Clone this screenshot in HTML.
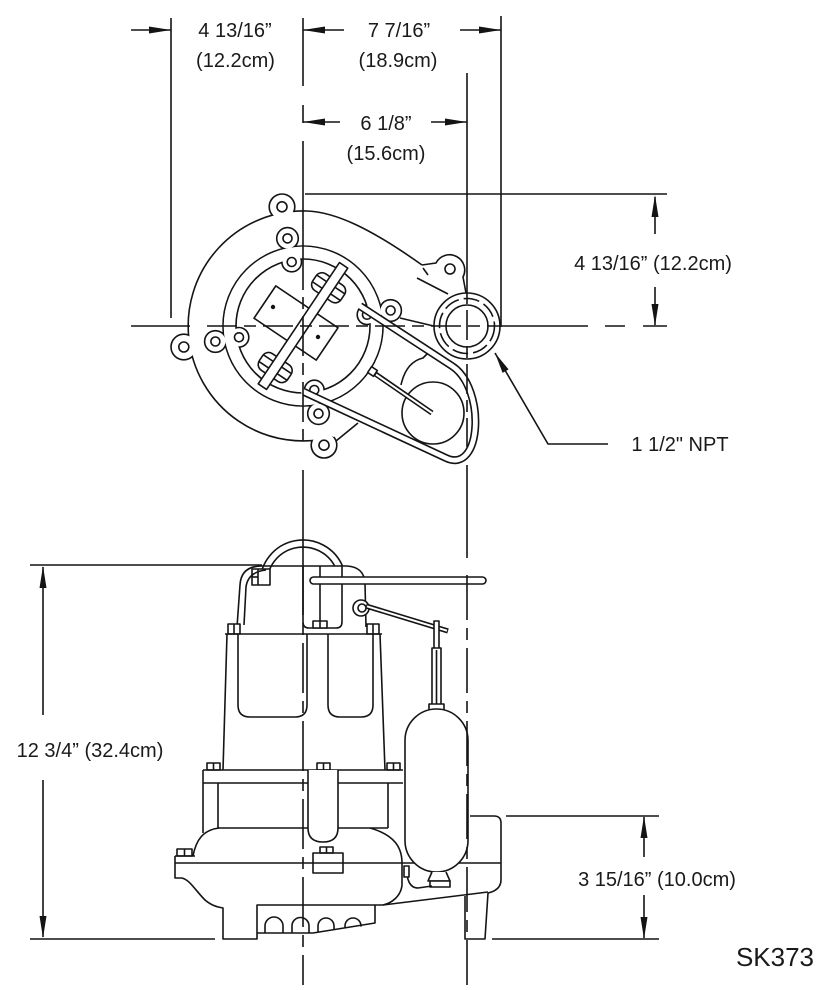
<!DOCTYPE html>
<html><head><meta charset="utf-8"><style>
html,body{margin:0;padding:0;background:#fff;}
svg{display:block;}
text{font-family:"Liberation Sans",Arial,sans-serif;fill:#1a1a1a;}
</style></head><body>
<svg width="827" height="990" viewBox="0 0 827 990" xmlns="http://www.w3.org/2000/svg">
<rect width="827" height="990" fill="#fff"/>
<g fill="none" stroke="#141414" stroke-width="1.6" stroke-linejoin="round">

<!-- ===== TOP VIEW ===== -->
<g stroke-width="3.2">
<circle cx="282" cy="206.8" r="12"/>
<circle cx="183.8" cy="347" r="12"/>
<circle cx="324" cy="445.2" r="12"/>
</g>
<circle cx="303" cy="326" r="115" fill="#fff" stroke="none"/>
<path d="M307,211 A115,115 0 1 0 333,437"/>
<g fill="#fff" stroke="none">
<circle cx="282" cy="206.8" r="12"/>
<circle cx="183.8" cy="347" r="12"/>
<circle cx="324" cy="445.2" r="12"/>
</g>
<circle cx="282" cy="206.8" r="5"/>
<circle cx="183.8" cy="347" r="5"/>
<circle cx="324" cy="445.2" r="5"/>

<!-- volute outline -->
<path d="M307,211 C335,212 370,228 422,265"/>
<path d="M422,265 L436,263 A14.5,14.5 0 1 1 463,277 L466,293"/>
<circle cx="450" cy="269" r="5"/>
<path d="M423,268 L428,275"/>
<path d="M417,278 L448,294"/>
<path d="M400,318 L442,328"/>
<path d="M430,351 L423,358 Q406,362 401,385"/>
<path d="M336,441 L358,423"/>

<!-- ring outer lugs -->
<g stroke-width="3.2">
<circle cx="287.5" cy="238.4" r="10"/>
<circle cx="215.4" cy="341.5" r="10"/>
<circle cx="318.5" cy="413.6" r="10"/>
<circle cx="390.6" cy="310.5" r="10"/>
</g>
<circle cx="303" cy="326" r="80" fill="#fff" stroke="none"/>
<circle cx="303" cy="326" r="80"/>
<g fill="#fff" stroke="none">
<circle cx="287.5" cy="238.4" r="10"/>
<circle cx="215.4" cy="341.5" r="10"/>
<circle cx="318.5" cy="413.6" r="10"/>
<circle cx="390.6" cy="310.5" r="10"/>
</g>
<circle cx="287.5" cy="238.4" r="4.5"/>
<circle cx="215.4" cy="341.5" r="4.5"/>
<circle cx="318.5" cy="413.6" r="4.5"/>
<circle cx="390.6" cy="310.5" r="4.5"/>

<!-- ring inner lugs -->
<g stroke-width="3.2">
<circle cx="291.7" cy="262" r="9"/>
<circle cx="239" cy="337.3" r="9"/>
<circle cx="314.3" cy="390" r="9"/>
<circle cx="367" cy="314.7" r="9"/>
</g>
<path fill="#fff" stroke="none" fill-rule="evenodd" d="M303,246.8 A79.2,79.2 0 1 0 303.01,246.8 Z M303,259 A67,67 0 1 1 302.99,259 Z"/>
<circle cx="303" cy="326" r="67"/>
<g fill="#fff" stroke="none">
<circle cx="291.7" cy="262" r="9"/>
<circle cx="239" cy="337.3" r="9"/>
<circle cx="314.3" cy="390" r="9"/>
<circle cx="367" cy="314.7" r="9"/>
</g>
<circle cx="291.7" cy="262" r="4.5"/>
<circle cx="239" cy="337.3" r="4.5"/>
<circle cx="314.3" cy="390" r="4.5"/>
<circle cx="367" cy="314.7" r="4.5"/>

<!-- interior rectangle -->
<g transform="translate(296,323) rotate(34)"><rect x="-37.5" y="-19.5" width="75" height="39" fill="#fff"/></g>
<circle cx="273" cy="307" r="1.4" fill="#141414"/>
<circle cx="318" cy="337" r="1.4" fill="#141414"/>

<!-- clamps + bar -->
<g transform="translate(303,326) rotate(-56.2)">
<rect x="36" y="-17" width="20" height="34" rx="7" fill="#fff"/>
<line x1="42" y1="-17" x2="42" y2="17"/>
<line x1="50" y1="-17" x2="50" y2="17"/>
<rect x="-60" y="-17" width="20" height="34" rx="7" fill="#fff"/>
<line x1="-54" y1="-17" x2="-54" y2="17"/>
<line x1="-46" y1="-17" x2="-46" y2="17"/>
<rect x="-73" y="-5" width="146" height="10" fill="#fff"/>
</g>

<!-- float circle and rod -->
<circle cx="433" cy="413" r="31" fill="#fff"/>
<path d="M374,373 L432,413" stroke-width="5.2"/>
<path d="M376,374.5 L432,413" stroke="#fff" stroke-width="2"/>
<rect x="369" y="368" width="7" height="7" fill="#fff" transform="rotate(34 372.5 371.5)"/>

<!-- loop -->
<path d="M360,306 L452,366 C486,388 482,475 446,458 L304,392" stroke-width="8"/>
<path d="M358,304.7 L452,366 C486,388 482,475 446,458 L302,391" stroke="#fff" stroke-width="4.8"/>

<!-- discharge flange -->
<circle cx="467" cy="326" r="33" fill="#fff"/>
<circle cx="467" cy="326" r="27.5" stroke-dasharray="16 5"/>
<circle cx="467" cy="326" r="21"/>

<!-- ===== SIDE VIEW ===== -->
<path d="M260,585 L260,583 A43,43 0 0 1 342.5,566"/>
<path d="M267,585 L267,583 A36,36 0 0 1 334.7,566"/>
<rect x="252" y="569" width="18" height="16" fill="#fff"/>
<line x1="258" y1="569" x2="258" y2="585"/>
<line x1="252" y1="577" x2="258" y2="577"/>

<path d="M237,627 L240,585 Q241,566 262,566 L347,566 Q364,567 365,583 L366,627"/>
<path d="M244,625 L246,587 Q248,572 266,570"/>
<path d="M303,566 L303,622 Q303,628 309,628 L336,628 Q342,628 342,622 L342,566"/>
<line x1="320" y1="566" x2="320" y2="628"/>
<rect x="313" y="621" width="14" height="7" fill="#fff"/>
<line x1="320" y1="621" x2="320" y2="628"/>
<rect x="228" y="624" width="12" height="10" fill="#fff"/>
<line x1="234" y1="624" x2="234" y2="634"/>
<rect x="367" y="624" width="12" height="10" fill="#fff"/>
<line x1="373" y1="624" x2="373" y2="634"/>

<line x1="225" y1="634" x2="382" y2="634"/>
<line x1="227" y1="634" x2="223" y2="770"/>
<line x1="380" y1="634" x2="385" y2="770"/>
<path d="M238,634 L238,705 Q238,717 250,717 L295,717 Q307,717 307,705 L307,634"/>
<path d="M328,634 L328,705 Q328,717 340,717 L361,717 Q373,717 373,705 L373,634"/>

<circle cx="361" cy="608" r="8" fill="#fff"/>
<circle cx="362" cy="608" r="4"/>
<path d="M366,606 L448,631" stroke-width="5.2"/>
<path d="M367,606.3 L447,630.7" stroke="#fff" stroke-width="2"/>

<rect x="434" y="621" width="5" height="28" fill="#fff"/>
<rect x="432" y="648" width="9" height="57" fill="#fff"/>
<line x1="436.5" y1="650" x2="436.5" y2="704"/>
<rect x="429" y="704" width="15" height="6" fill="#fff"/>

<rect x="310" y="577" width="176" height="7" rx="3.5" fill="#fff"/>

<rect x="207" y="763" width="13" height="7" fill="#fff"/><line x1="213.5" y1="763" x2="213.5" y2="770"/>
<rect x="317" y="763" width="13" height="7" fill="#fff"/><line x1="323.5" y1="763" x2="323.5" y2="770"/>
<rect x="387" y="763" width="13" height="7" fill="#fff"/><line x1="393.5" y1="763" x2="393.5" y2="770"/>
<line x1="203" y1="770" x2="403" y2="770"/>
<line x1="203" y1="783" x2="403" y2="783"/>
<line x1="203" y1="770" x2="203" y2="833"/>
<line x1="218" y1="783" x2="218" y2="828"/>
<line x1="388" y1="783" x2="388" y2="828"/>
<line x1="218" y1="828" x2="388" y2="828"/>
<path d="M308,770 L308,828 C308,838 314,842 323,842 C332,842 338,838 338,828 L338,770" fill="#fff"/>

<path d="M219,828 C203,830 196,840 193,856"/>
<path d="M370,828 C395,835 402,848 402,863 L402,885 C401,896 392,903 383,905"/>
<line x1="175" y1="863" x2="402" y2="863"/>
<rect x="177" y="849" width="15" height="7" fill="#fff"/><line x1="184.5" y1="849" x2="184.5" y2="856"/>
<path d="M175,856 L195,856"/>
<path d="M175,856 L175,878 L182,878 C190,880 195,890 205,900 C212,906 218,907 223,908 L223,939 L257,939 L257,905 L383,905"/>
<rect x="320" y="847" width="13" height="6" fill="#fff"/><line x1="326.5" y1="847" x2="326.5" y2="853"/>
<rect x="313" y="853" width="30" height="20" fill="none"/>

<path d="M257,933 L313,933 L375,923 L375,905"/>
<path d="M265,933 L265,926 A9,9 0 0 1 283,926 L283,933"/>
<path d="M292,933 L292,926 A8.5,8.5 0 0 1 309,926 L309,933"/>
<path d="M318,932 L318,926 A8,8 0 0 1 334,926 L334,929.6"/>
<path d="M345,927.8 L345,926 A8,8 0 0 1 361,926 L361,925.3"/>

<path d="M383,905 L488,892"/>
<path d="M470,816 L494,816 Q501,816 501,823 L501,880 Q501,890 488,893"/>
<line x1="402" y1="863" x2="501" y2="863"/>
<path d="M465,896 L465,939 L485,939 L488,893"/>

<rect x="405" y="709" width="63" height="163" rx="31.5" fill="#fff"/>
<path d="M432,872 L428,881 L450,881 L446,872" fill="#fff"/>
<rect x="430" y="881" width="20" height="6" fill="#fff"/>
<path d="M407,866 C406,880 410,888 418,888 L432,886"/>
<rect x="404" y="866" width="5" height="11" fill="#fff"/>

<!-- ===== DIMENSIONS ===== -->
<line x1="171" y1="18" x2="171" y2="318"/>
<line x1="501" y1="16" x2="501" y2="327"/>
<line x1="131" y1="30" x2="171" y2="30"/>
<line x1="303" y1="30" x2="344" y2="30"/>
<line x1="460" y1="30" x2="501" y2="30"/>
<line x1="303" y1="122" x2="340" y2="122"/>
<line x1="431" y1="122" x2="467" y2="122"/>
<line x1="305" y1="194" x2="667" y2="194"/>
<line x1="655" y1="197" x2="655" y2="234"/>
<line x1="655" y1="287" x2="655" y2="325"/>
<polyline points="495,353 548,444 608,444"/>
<line x1="30" y1="565" x2="262" y2="565"/>
<line x1="43" y1="567" x2="43" y2="715"/>
<line x1="43" y1="780" x2="43" y2="937"/>
<line x1="30" y1="939" x2="215" y2="939"/>
<line x1="492" y1="939" x2="659" y2="939"/>
<line x1="506" y1="816" x2="659" y2="816"/>
<line x1="644" y1="817" x2="644" y2="857"/>
<line x1="644" y1="895" x2="644" y2="938"/>

<!-- centerlines -->
<line x1="303" y1="18" x2="303" y2="86"/>
<line x1="303" y1="105" x2="303" y2="123"/>
<line x1="303" y1="141" x2="303" y2="250"/>
<line x1="303" y1="250" x2="303" y2="447" stroke-dasharray="40 7 12 7"/>
<line x1="303" y1="470" x2="303" y2="565"/>
<line x1="303" y1="565" x2="303" y2="985" stroke-dasharray="50 8 12 8"/>
<line x1="467" y1="73" x2="467" y2="292"/>
<line x1="467" y1="292" x2="467" y2="447" stroke-dasharray="12 6 30 6"/>
<line x1="467" y1="465" x2="467" y2="558"/>
<line x1="467" y1="575" x2="467" y2="985" stroke-dasharray="45 8 12 8"/>
<line x1="131" y1="326" x2="190" y2="326"/>
<line x1="207" y1="326" x2="501" y2="326" stroke-dasharray="30 7 12 7"/>
<line x1="501" y1="326" x2="588" y2="326"/>
<line x1="605" y1="326" x2="625" y2="326"/>
<line x1="643" y1="326" x2="667" y2="326"/>
</g>

<g fill="#141414" stroke="none">
<polygon points="171,30 149,26.5 149,33.5"/>
<polygon points="303,30 325,26.5 325,33.5"/>
<polygon points="501,30 479,26.5 479,33.5"/>
<polygon points="303,122 325,118.5 325,125.5"/>
<polygon points="467,122 445,118.5 445,125.5"/>
<polygon points="655,195 651.5,217 658.5,217"/>
<polygon points="655,326 651.5,304 658.5,304"/>
<polygon points="495,353 508.6,369.4 502.6,372.9"/>
<polygon points="43,566 39.5,588 46.5,588"/>
<polygon points="43,938 39.5,916 46.5,916"/>
<polygon points="644,816 640.5,838 647.5,838"/>
<polygon points="644,939 640.5,917 647.5,917"/>
</g>

<g font-size="20" text-anchor="middle">
<text x="235" y="37">4 13/16”</text>
<text x="235.5" y="67">(12.2cm)</text>
<text x="399" y="37">7 7/16”</text>
<text x="398" y="67">(18.9cm)</text>
<text x="386" y="130">6 1/8”</text>
<text x="386" y="160">(15.6cm)</text>
<text x="653" y="270">4 13/16” (12.2cm)</text>
<text x="680" y="451">1 1/2" NPT</text>
<text x="90" y="757">12 3/4” (32.4cm)</text>
<text x="657" y="886">3 15/16” (10.0cm)</text>
<text x="775" y="966" font-size="26">SK373</text>
</g>
</svg>
</body></html>
